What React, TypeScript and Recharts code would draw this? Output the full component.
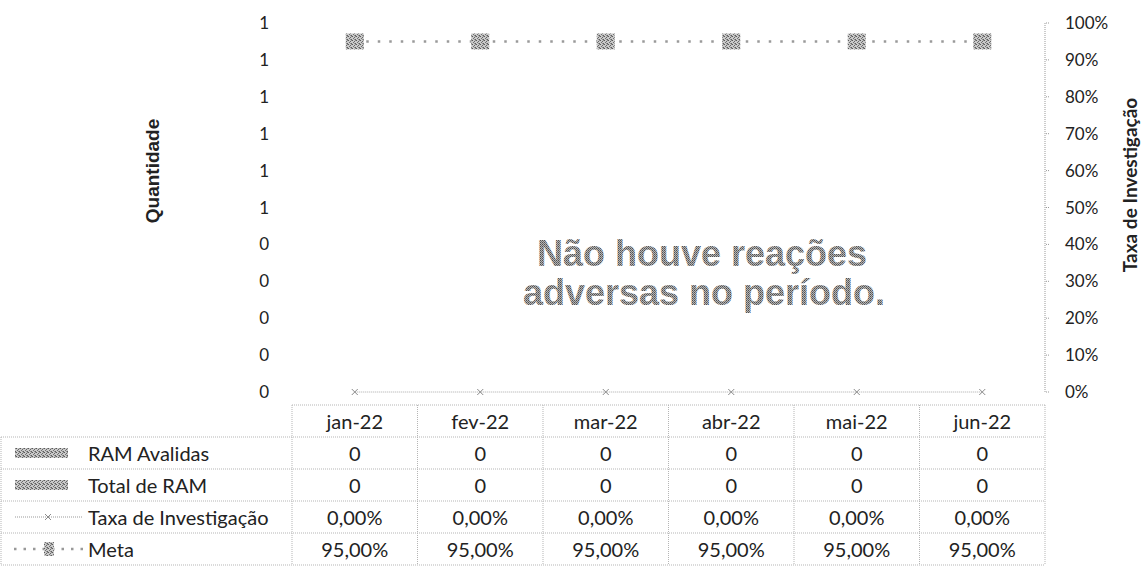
import { ComposedChart, Bar, Line, XAxis, YAxis } from "recharts";

const MONTHS = ["jan-22", "fev-22", "mar-22", "abr-22", "mai-22", "jun-22"];
const RAM_AVALIADAS = [0, 0, 0, 0, 0, 0];
const TOTAL_RAM = [0, 0, 0, 0, 0, 0];
const TAXA_INVESTIGACAO = [0, 0, 0, 0, 0, 0];
const META = [0.95, 0.95, 0.95, 0.95, 0.95, 0.95];
const QTY_TICKS = [0, 0.1, 0.2, 0.3, 0.4, 0.5, 0.6, 0.7, 0.8, 0.9, 1];
const PCT_TICKS = [0, 0.1, 0.2, 0.3, 0.4, 0.5, 0.6, 0.7, 0.8, 0.9, 1];
const EMPTY_MESSAGE = ["Não houve reações", "adversas no período."];

const W = 1142;
const H = 576;
const PLOT_LEFT = 292;
const PLOT_RIGHT = 1045;
const PLOT_TOP = 23;
const PLOT_BOTTOM = 392;
const TABLE_TOP = 405;
const ROW_H = 32;
const FONT = "Lato, 'Noto Sans', sans-serif";
const ARIAL = "'Liberation Sans', Arial, sans-serif";
const TEXT = "#222";
const GRID = "#b5b5b5";

const data = MONTHS.map((m, i) => ({
  month: m,
  avaliadas: RAM_AVALIADAS[i],
  total: TOTAL_RAM[i],
  taxa: TAXA_INVESTIGACAO[i],
  meta: META[i],
}));

const pct2 = (v: number) => (v * 100).toFixed(2).replace(".", ",") + "%";

function MetaDot(props: any) {
  const { cx, cy, index } = props;
  if (cx == null || cy == null) return null;
  return <rect key={index} x={cx - 9} y={cy - 8} width={18} height={16} fill="url(#ht)" />;
}

function CrossDot(props: any) {
  const { cx, cy, index } = props;
  if (cx == null || cy == null) return null;
  return (
    <g key={index} stroke="#8a8a8a" strokeWidth={1}>
      <line x1={cx - 3} y1={cy - 3} x2={cx + 3} y2={cy + 3} />
      <line x1={cx - 3} y1={cy + 3} x2={cx + 3} y2={cy - 3} />
    </g>
  );
}

function LegendKey({ kind, y }: { kind: string; y: number }) {
  if (kind === "bar") return <rect x={15} y={y - 5} width={53} height={10} fill="url(#ht)" />;
  if (kind === "taxa")
    return (
      <g>
        <line x1={15} y1={y} x2={82} y2={y} stroke="#999" strokeDasharray="1 1" />
        <CrossDot cx={48} cy={y} index={0} />
      </g>
    );
  return (
    <g>
      <line x1={14} y1={y} x2={84} y2={y} stroke="#999" strokeWidth={2.5} strokeDasharray="2.5 7" />
      <rect x={44} y={y - 7} width={10} height={14} fill="url(#ht)" />
    </g>
  );
}

function DataTable() {
  const colW = (PLOT_RIGHT - PLOT_LEFT) / MONTHS.length;
  const rows = [
    { name: "RAM Avalidas", kind: "bar", values: RAM_AVALIADAS.map(String) },
    { name: "Total de RAM", kind: "bar", values: TOTAL_RAM.map(String) },
    { name: "Taxa de Investigação", kind: "taxa", values: TAXA_INVESTIGACAO.map(pct2) },
    { name: "Meta", kind: "meta", values: META.map(pct2) },
  ];
  const bottom = TABLE_TOP + ROW_H * (rows.length + 1);
  return (
    <svg width={W} height={H} style={{ position: "absolute", left: 0, top: 0, pointerEvents: "none" }}>
      <g stroke={GRID} strokeDasharray="1 1">
        <line x1={PLOT_LEFT} y1={TABLE_TOP} x2={PLOT_RIGHT} y2={TABLE_TOP} />
        {rows.map((_, k) => (
          <line key={k} x1={1} y1={TABLE_TOP + ROW_H * (k + 1)} x2={PLOT_RIGHT} y2={TABLE_TOP + ROW_H * (k + 1)} />
        ))}
        <line x1={1} y1={bottom} x2={PLOT_RIGHT} y2={bottom} />
        <line x1={1} y1={TABLE_TOP + ROW_H} x2={1} y2={bottom} />
        {MONTHS.map((_, i) => (
          <line key={i} x1={PLOT_LEFT + colW * i} y1={TABLE_TOP} x2={PLOT_LEFT + colW * i} y2={bottom} />
        ))}
        <line x1={PLOT_RIGHT} y1={TABLE_TOP} x2={PLOT_RIGHT} y2={bottom} />
      </g>
      <g fontFamily={FONT} fontSize={20} fill={TEXT} textAnchor="middle" dominantBaseline="central">
        {MONTHS.map((m, i) => (
          <text key={m} x={PLOT_LEFT + colW * (i + 0.5)} y={TABLE_TOP + ROW_H / 2}>
            {m}
          </text>
        ))}
        {rows.map((r, k) =>
          r.values.map((v, i) => (
            <text key={k + "-" + i} x={PLOT_LEFT + colW * (i + 0.5)} y={TABLE_TOP + ROW_H * (k + 1.5)}>
              {v}
            </text>
          ))
        )}
      </g>
      {rows.map((r, k) => (
        <g key={r.name}>
          <LegendKey kind={r.kind} y={TABLE_TOP + ROW_H * (k + 1.5)} />
          <text
            x={88}
            y={TABLE_TOP + ROW_H * (k + 1.5)}
            fontFamily={FONT}
            fontSize={20}
            fill={TEXT}
            dominantBaseline="central"
          >
            {r.name}
          </text>
        </g>
      ))}
    </svg>
  );
}

export default function App() {
  return (
    <div style={{ position: "absolute", left: 0, top: 0, width: W, height: H, background: "#fff" }}>
      <svg width={0} height={0} style={{ position: "absolute" }}>
        <defs>
          <pattern id="ht" width={4} height={4} patternUnits="userSpaceOnUse">
            <rect width={4} height={4} fill="#c9c9c9" />
            <rect x={0} y={0} width={1} height={1} fill="#5a5a5a" />
            <rect x={2} y={1} width={1} height={1} fill="#666" />
            <rect x={1} y={2} width={1} height={1} fill="#707070" />
            <rect x={3} y={3} width={1} height={1} fill="#5f5f5f" />
            <rect x={2} y={3} width={1} height={1} fill="#909090" />
            <rect x={3} y={0} width={1} height={1} fill="#8a8a8a" />
          </pattern>
          <pattern id="ht2" width={2} height={2} patternUnits="userSpaceOnUse">
            <rect width={2} height={2} fill="#b4b4b4" />
            <rect width={1} height={1} fill="#505050" />
            <rect x={1} y={1} width={1} height={1} fill="#6e6e6e" />
          </pattern>
        </defs>
      </svg>
      <ComposedChart
        width={W}
        height={H}
        data={data}
        margin={{ top: PLOT_TOP, right: 0, bottom: H - PLOT_BOTTOM, left: 0 }}
      >
        <XAxis dataKey="month" hide />
        <YAxis
          yAxisId="qty"
          width={PLOT_LEFT}
          domain={[0, 1]}
          ticks={QTY_TICKS}
          interval={0}
          axisLine={false}
          tickLine={false}
          tickMargin={17}
          tickFormatter={(v: number) => String(Math.round(v))}
          tick={{ fontFamily: FONT, fontSize: 17, fill: TEXT }}
        />
        <YAxis
          yAxisId="pct"
          orientation="right"
          width={W - PLOT_RIGHT}
          domain={[0, 1]}
          ticks={PCT_TICKS}
          interval={0}
          axisLine={{ stroke: "#999", strokeDasharray: "1 1" }}
          tickLine={{ stroke: "#999", strokeDasharray: "1 1" }}
          tickSize={4}
          tickMargin={16}
          tickFormatter={(v: number) => Math.round(v * 100) + "%"}
          tick={{ fontFamily: FONT, fontSize: 17, fill: TEXT, textAnchor: "start" }}
        />
        <Bar yAxisId="qty" dataKey="avaliadas" fill="url(#ht)" isAnimationActive={false} />
        <Bar yAxisId="qty" dataKey="total" fill="url(#ht)" isAnimationActive={false} />
        <Line
          yAxisId="pct"
          dataKey="taxa"
          stroke="#aaa"
          strokeWidth={1}
          strokeDasharray="1 1"
          dot={CrossDot}
          activeDot={false}
          isAnimationActive={false}
        />
        <Line
          yAxisId="pct"
          dataKey="meta"
          stroke="#9a9a9a"
          strokeWidth={2.5}
          strokeDasharray="2.5 9"
          dot={MetaDot}
          activeDot={false}
          isAnimationActive={false}
        />
      </ComposedChart>
      <svg width={W} height={H} style={{ position: "absolute", left: 0, top: 0, pointerEvents: "none" }}>
        <text
          transform="translate(159,171) rotate(-90)"
          fontFamily={ARIAL}
          fontSize={19}
          fontWeight={700}
          fill={TEXT}
          textAnchor="middle"
        >
          Quantidade
        </text>
        <text
          transform="translate(1137,185) rotate(-90)"
          fontFamily={FONT}
          fontSize={19}
          fontWeight={700}
          fill={TEXT}
          textAnchor="middle"
        >
          Taxa de Investigação
        </text>
        <text
          x={702}
          fontFamily={ARIAL}
          fontSize={36}
          fontWeight={700}
          fill="url(#ht2)"
          textAnchor="middle"
        >
          <tspan x={702} y={266}>{EMPTY_MESSAGE[0]}</tspan>
          <tspan x={704} y={305}>{EMPTY_MESSAGE[1]}</tspan>
        </text>
      </svg>
      <DataTable />
    </div>
  );
}
